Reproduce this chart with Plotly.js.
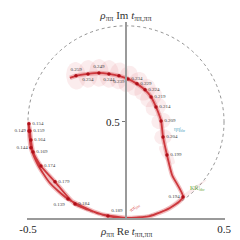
<!DOCTYPE html>
<html><head><meta charset="utf-8">
<script src="https://cdn.plot.ly/plotly-3.0.1.min.js"></script>
<style>html,body{margin:0;padding:0;background:#fff}#plot{width:240px;height:240px}</style>
</head><body><div id="plot"></div>
<script>
// Labelled energy points (a_t E_cm) and rho*t values
const energies = [0.139,0.144,0.149,0.154,0.159,0.164,0.169,0.174,0.179,0.184,0.189,0.194,0.199,0.204,0.209,0.214,0.219,0.224,0.229,0.234,0.239,0.244,0.249,0.254,0.259];
const reT = [-0.296,-0.485,-0.495,-0.495,-0.490,-0.485,-0.474,-0.434,-0.362,-0.260,-0.092,0.291,0.209,0.189,0.179,0.153,0.128,0.097,0.056,0.010,-0.036,-0.087,-0.138,-0.194,-0.255];
const imT = [0.099,0.365,0.453,0.490,0.453,0.406,0.344,0.271,0.188,0.073,0.010,0.109,0.328,0.422,0.505,0.578,0.630,0.667,0.698,0.724,0.740,0.750,0.755,0.750,0.740];
// uncertainty ellipses: semi-axes and orientation (deg)
const errMajor = [0.012,0.012,0.014,0.02,0.01,0.01,0.01,0.01,0.01,0.01,0.01,0.15,0.06,0.045,0.05,0.055,0.06,0.06,0.065,0.07,0.07,0.072,0.072,0.072,0.072];
const errMinor = [0.008,0.008,0.01,0.012,0.008,0.008,0.008,0.008,0.008,0.008,0.008,0.01,0.022,0.04,0.042,0.045,0.048,0.05,0.05,0.05,0.05,0.05,0.05,0.05,0.05];
const errAngle = [0,0,90,90,0,0,0,0,0,0,0,37,-52,10,20,30,40,50,60,75,85,90,90,90,95];
// continuous amplitude curve
const curveRe = [0,-0.133,-0.296,-0.388,-0.449,-0.485,-0.495,-0.497,-0.490,-0.485,-0.474,-0.434,-0.362,-0.260,-0.092,0,0.122,0.224,0.291,0.235,0.209,0.189,0.179,0.153,0.128,0.097,0.056,0.010,-0.036,-0.087,-0.138,-0.194,-0.255,-0.286];
const curveIm = [0,0.021,0.099,0.182,0.276,0.365,0.453,0.490,0.453,0.406,0.344,0.271,0.188,0.073,0.010,0,0.010,0.052,0.109,0.224,0.328,0.422,0.505,0.578,0.630,0.667,0.698,0.724,0.740,0.750,0.755,0.750,0.740,0.729];
const labelPos = ['bottom left','middle left','middle left','middle right','middle right','middle right','middle right','middle right','middle right','middle right','top right','middle left','middle right','middle right','middle right','middle right','middle right','middle right','middle right','middle right','bottom center','bottom center','top center','bottom center','top center'];
const xTicks = [-0.5, 0.5], xTickText = ['-0.5','0.5'];
const yTicks = [0.5], yTickText = ['0.5'];

const serif = 'Liberation Serif, DejaVu Serif, serif';
const traces = [];
for (let i = 0; i < energies.length; i++) {
  const xs = [], ys = [];
  const th = errAngle[i] * Math.PI / 180;
  for (let k = 0; k <= 36; k++) {
    const p = 2 * Math.PI * k / 36;
    const u = errMajor[i] * Math.cos(p), v = errMinor[i] * Math.sin(p);
    xs.push(reT[i] + u * Math.cos(th) - v * Math.sin(th));
    ys.push(imT[i] + u * Math.sin(th) + v * Math.cos(th));
  }
  traces.push({x: xs, y: ys, mode: 'lines', fill: 'toself', fillcolor: 'rgba(228,120,125,0.14)',
    line: {width: 0}, hoverinfo: 'skip', showlegend: false, cliponaxis: false});
}
traces.push({x: curveRe, y: curveIm, mode: 'lines', line: {color: 'rgba(225,110,115,0.45)', width: 4.5, shape: 'spline', smoothing: 0.6},
  showlegend: false, cliponaxis: false, hoverinfo: 'skip'});
traces.push({x: curveRe, y: curveIm, mode: 'lines', line: {color: 'rgb(205,55,60)', width: 1.8, shape: 'spline', smoothing: 0.6},
  showlegend: false, cliponaxis: false, hoverinfo: 'skip'});
traces.push({x: reT, y: imT, mode: 'markers+text', marker: {color: 'rgb(175,15,25)', size: 3.5},
  text: energies.map(e => e.toFixed(3)), textposition: labelPos,
  textfont: {family: serif, size: 5, color: '#444'}, showlegend: false, cliponaxis: false});

const layout = {
  width: 240, height: 240,
  margin: {l: 27, r: 15, t: 22, b: 22},
  paper_bgcolor: '#fff', plot_bgcolor: 'rgba(0,0,0,0)',
  showlegend: false,
  title: {text: '<i>ρ</i><sub>ππ</sub> Im <i>t</i><sub>ππ,ππ</sub>', font: {family: serif, size: 11, color: '#333'},
    x: 0.525, xanchor: 'center', y: 0.9375, yanchor: 'middle', yref: 'container'},
  xaxis: {range: [-0.505, 0.505], showgrid: false, zeroline: false, showline: true, linecolor: '#9a9a9a', linewidth: 2,
    ticks: 'inside', ticklen: 4, tickwidth: 1, tickcolor: '#777', tickvals: xTicks, ticktext: xTickText,
    tickfont: {family: serif, size: 11, color: '#222'}, fixedrange: true},
  yaxis: {range: [0, 1.02], showgrid: false, zeroline: false, showline: true, linecolor: '#9a9a9a', linewidth: 2,
    anchor: 'free', position: 0.5, ticks: 'outside', ticklen: 3, tickwidth: 1, tickcolor: '#777',
    tickvals: yTicks, ticktext: yTickText, tickfont: {family: serif, size: 11, color: '#222'}, fixedrange: true},
  shapes: [{type: 'circle', xref: 'x', yref: 'y', x0: -0.5, x1: 0.5, y0: 0, y1: 1,
    line: {color: '#777', width: 0.8, dash: '3px,3px'}, layer: 'below'}],
  annotations: [
    {text: '<i>ρ</i><sub>ππ</sub> Re <i>t</i><sub>ππ,ππ</sub>', xref: 'x', yref: 'paper', x: 0, y: -0.071, yanchor: 'middle',
      showarrow: false, font: {family: serif, size: 11, color: '#333'}},
    {text: 'KK̄|<sub>thr</sub>', xref: 'x', yref: 'y', x: 0.365, y: 0.156, showarrow: false,
      font: {family: serif, size: 6, color: 'rgb(105,170,60)'}},
    {text: 'ηη|<sub>thr</sub>', xref: 'x', yref: 'y', x: 0.276, y: 0.458, showarrow: false,
      font: {family: serif, size: 5.5, color: 'rgb(80,165,190)'}},
    {text: 'ππ|<sub>thr</sub>', xref: 'x', yref: 'y', x: 0.045, y: 0.055, showarrow: false, textangle: -40,
      font: {family: serif, size: 5.5, color: 'rgb(220,90,90)'}}
  ]
};
Plotly.newPlot('plot', traces, layout, {staticPlot: true, displayModeBar: false});
</script></body></html>
